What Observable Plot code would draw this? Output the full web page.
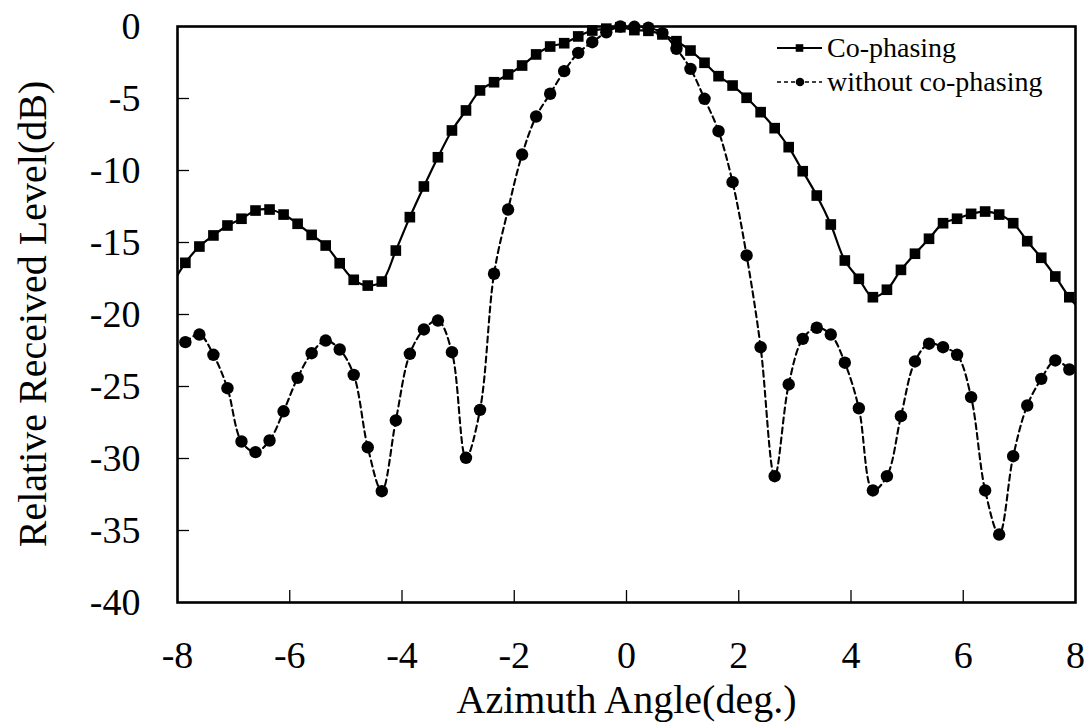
<!DOCTYPE html>
<html>
<head>
<meta charset="utf-8">
<script src="https://cdn.jsdelivr.net/npm/d3@7"></script>
<script src="https://cdn.jsdelivr.net/npm/@observablehq/plot@0.6"></script>
<style>
  body { margin: 0; background: #fff; }
  #chart { width: 1090px; height: 725px; }
</style>
</head>
<body>
<div id="chart"></div>
<script>
// Azimuth angle (deg.) of each measured point
const angle = [-8.11, -7.86, -7.61, -7.36, -7.11, -6.86, -6.61, -6.36, -6.11, -5.86,
  -5.61, -5.36, -5.11, -4.86, -4.61, -4.36, -4.11, -3.86, -3.61, -3.36,
  -3.11, -2.86, -2.61, -2.36, -2.11, -1.86, -1.61, -1.36, -1.11, -0.86,
  -0.61, -0.36, -0.11, 0.14, 0.39, 0.64, 0.89, 1.14, 1.39, 1.64,
  1.89, 2.14, 2.39, 2.64, 2.89, 3.14, 3.39, 3.64, 3.89, 4.14,
  4.39, 4.64, 4.89, 5.14, 5.39, 5.64, 5.89, 6.14, 6.39, 6.64,
  6.89, 7.14, 7.39, 7.64, 7.89, 8.14];

// Relative received level (dB), Co-phasing
const coLevel = [-18.0, -16.41, -15.28, -14.51, -13.82, -13.35, -12.78, -12.71, -13.06, -13.70,
  -14.47, -15.21, -16.44, -17.59, -17.99, -17.71, -15.56, -13.24, -11.11, -9.08,
  -7.22, -5.83, -4.44, -3.87, -3.33, -2.71, -1.94, -1.39, -1.16, -0.69,
  -0.28, -0.15, -0.05, -0.25, -0.30, -0.55, -1.02, -1.67, -2.52, -3.45,
  -4.10, -4.95, -5.95, -7.06, -8.38, -10.05, -11.74, -13.75, -16.25, -17.52,
  -18.80, -18.28, -16.90, -15.78, -14.74, -13.66, -13.35, -13.01, -12.85, -13.06,
  -13.66, -14.91, -16.06, -17.36, -18.80, -19.9];

// Relative received level (dB), without co-phasing
const woLevel = [null, -21.92, -21.39, -22.80, -25.12, -28.82, -29.56, -28.75, -26.72, -24.40,
  -22.69, -21.81, -22.43, -24.19, -29.22, -32.27, -27.36, -22.73, -21.04, -20.42,
  -22.62, -29.95, -26.62, -17.17, -12.71, -8.89, -6.25, -4.67, -3.10, -1.83,
  -1.09, -0.40, 0, -0.02, -0.08, -0.46, -1.55, -2.94, -5.02, -7.27,
  -10.81, -15.90, -22.27, -31.23, -24.86, -21.69, -20.92, -21.39, -23.35, -26.51,
  -32.22, -31.23, -27.06, -23.26, -22.03, -22.27, -22.80, -25.74, -32.22, -35.28,
  -29.84, -26.32, -24.47, -23.19, -23.82, null];

const xTicks = [-8, -6, -4, -2, 0, 2, 4, 6, 8];
const yTicks = [0, -5, -10, -15, -20, -25, -30, -35, -40];
const seriesNames = ["Co-phasing", "without co-phasing"];
const xTitle = "Azimuth Angle(deg.)";
const yTitle = "Relative Received Level(dB)";

const rows = angle.map((a, i) => ({angle: a, co: coLevel[i], wo: woLevel[i]}));
const inFrame = d => d.angle >= -8 && d.angle <= 8;
const font = "'Liberation Serif', 'Times New Roman', serif";

const W = 1090, H = 725, mL = 177, mR = 15, mT = 26, mB = 123;
const frameW = W - mL - mR, frameH = H - mT - mB;

const plot = Plot.plot({
  width: W, height: H,
  marginLeft: mL, marginRight: mR, marginTop: mT, marginBottom: mB,
  style: {fontFamily: font, background: "#fff", color: "#000"},
  x: {domain: [-8, 8]},
  y: {domain: [-40, 0]},
  marks: [
    Plot.axisX(xTicks, {tickSize: 0, tickPadding: 39, fontSize: 38, tickFormat: d => String(d), label: null}),
    Plot.axisY(yTicks, {tickSize: 0, tickPadding: 37, fontSize: 38, tickFormat: d => String(d), label: null}),
    Plot.tickY(yTicks.filter(d => d !== 0 && d !== -40), {stroke: "#000", strokeWidth: 1.3, insetRight: frameW - 12}),
    Plot.tickX(xTicks.filter(d => d !== -8 && d !== 8), {stroke: "#000", strokeWidth: 1.3, insetTop: frameH - 12}),
    Plot.line(rows, {x: "angle", y: "co", stroke: "#000", strokeWidth: 2.2, curve: "catmull-rom", clip: true}),
    Plot.dot(rows, {x: "angle", y: "co", symbol: "square", r: 6, fill: "#000", stroke: null, filter: inFrame}),
    Plot.line(rows.filter(d => d.wo != null), {x: "angle", y: "wo", stroke: "#000", strokeWidth: 2.1, strokeDasharray: "6,4", curve: "catmull-rom", clip: true}),
    Plot.dot(rows, {x: "angle", y: "wo", r: 6.2, fill: "#000", stroke: null, filter: d => d.wo != null && inFrame(d)}),
    Plot.frame({stroke: "#000", strokeWidth: 2.6}),
    Plot.text([xTitle], {frameAnchor: "bottom", dy: 98, fontSize: 40, lineAnchor: "middle", fill: "#000"})
  ]
});

const svg = d3.select(plot);

// Y axis title (rotated)
svg.append("text")
  .attr("transform", `translate(33, ${mT + frameH / 2}) rotate(-90)`)
  .attr("text-anchor", "middle")
  .attr("dy", "0.32em")
  .attr("font-family", font)
  .attr("font-size", 40)
  .attr("fill", "#000")
  .text(yTitle);

// Legend (inside the plot frame, top right)
const lg = svg.append("g").attr("font-family", font).attr("font-size", 28).attr("fill", "#000").attr("text-anchor", "start");
const rowsY = [48, 82];
// Co-phasing
lg.append("line").attr("x1", 777).attr("x2", 822).attr("y1", rowsY[0]).attr("y2", rowsY[0])
  .attr("stroke", "#000").attr("stroke-width", 2);
lg.append("rect").attr("x", 799.5 - 3.8).attr("y", rowsY[0] - 3.8).attr("width", 7.6).attr("height", 7.6).attr("fill", "#000");
lg.append("text").attr("x", 827).attr("y", rowsY[0]).attr("dy", "0.32em").text(seriesNames[0]);
// without co-phasing
lg.append("line").attr("x1", 777).attr("x2", 822).attr("y1", rowsY[1]).attr("y2", rowsY[1])
  .attr("stroke", "#000").attr("stroke-width", 1.6).attr("stroke-dasharray", "4,3");
lg.append("circle").attr("cx", 800).attr("cy", rowsY[1]).attr("r", 4.3).attr("fill", "#000");
lg.append("text").attr("x", 827).attr("y", rowsY[1]).attr("dy", "0.32em").text(seriesNames[1]);

document.getElementById("chart").appendChild(plot);
</script>
</body>
</html>
